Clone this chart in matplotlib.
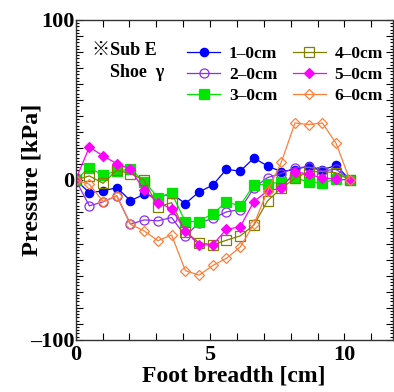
import numpy as np
import matplotlib
matplotlib.use("Agg")
import matplotlib.pyplot as plt
from matplotlib.ticker import MultipleLocator, FuncFormatter

# ======================================================
# Data
# ======================================================

foot_breadth = [0.0, 0.51, 1.02, 1.53, 2.04, 2.55, 3.06, 3.57, 4.08, 4.59, 5.10,
                5.61, 6.12, 6.63, 7.14, 7.65, 8.16, 8.67, 9.18, 9.69, 10.2]

p_1_0 = [0, -7.9, -6.9, -4.8, -13, -9, -11, -8.5, -14.8, -7.5, -3.3,
         6.7, 5.4, 13.7, 8.7, 5.2, 6.5, 8.7, 6.2, 9.2, 0]
p_2_0 = [0, -16.2, -13.7, -10, -27.7, -25, -25.6, -23.5, -35, -27, -24,
         -20, -18.5, -5, 1.5, 4, 7.7, 8, 5.6, 6.7, 0]
p_3_0 = [0, 7.7, 2.9, 5.6, 6.7, -1, -11, -8.3, -26, -26, -21,
         -14, -16, -3.1, -2.7, -1.2, 1.2, -1.2, -1.8, 0.5, 0]
p_4_0 = [0, 2.5, -2.1, 6, 4, -0.2, -16.9, -14.2, -32.3, -39.2, -40.6,
         -37.7, -35, -28.3, -13.1, -5.2, 1, 5.2, 5.2, 4.5, 0]
p_5_0 = [0, 20.6, 15, 10.2, 6.7, -6.5, -14.2, -17.9, -31.9, -40.6, -40.6,
         -30.8, -29.4, -13.5, -6.9, -5.2, 5.2, 3.5, 1.2, 0.4, 0]
p_6_0 = [0, -2.7, -13.5, -10, -27.7, -31.9, -38, -34.4, -56.7, -59.6, -53.5,
         -49, -42, -27.7, -6.9, 11, 35.6, 34.6, 35.6, 22.9, 0]

labels = ["1\u20130cm", "2\u20130cm", "3\u20130cm", "4\u20130cm", "5\u20130cm", "6\u20130cm"]

# ======================================================
# Styling
# ======================================================

plt.rcParams['font.family'] = ['Liberation Serif', 'Noto Sans CJK JP', 'DejaVu Serif']
plt.rcParams['font.weight'] = 'bold'
plt.rcParams['axes.unicode_minus'] = False

series = [
    (p_1_0, dict(color="#0000ff", marker="o", mfc="#0000ff", mec="#0000ff", ms=6)),
    (p_2_0, dict(color="#8c2cf0", marker="o", mfc="none", mec="#8c2cf0", ms=6.5)),
    (p_3_0, dict(color="#00e600", marker="s", mfc="#00e600", mec="#00e600", ms=6.5)),
    (p_4_0, dict(color="#808000", marker="s", mfc="none", mec="#808000", ms=6.5)),
    (p_5_0, dict(color="#ff00ff", marker="D", mfc="#ff00ff", mec="#ff00ff", ms=5.5)),
    (p_6_0, dict(color="#ff7f3a", marker="D", mfc="none", mec="#ff7f3a", ms=5.5)),
]

# ======================================================
# Plot
# ======================================================

fig = plt.figure(figsize=(3.94, 3.92), dpi=100)
ax = fig.add_axes([0.192, 0.133, 0.805, 0.816])

handles = []
for vals, style in series:
    h, = ax.plot(foot_breadth, vals, lw=0.9, mew=0.9, **style)
    handles.append(h)

ax.set_xlim(0, 11.8)
ax.set_ylim(-100, 100)

ax.xaxis.set_major_locator(MultipleLocator(5))
ax.xaxis.set_minor_locator(MultipleLocator(1))
ax.yaxis.set_major_locator(MultipleLocator(10))
ax.yaxis.set_minor_locator(MultipleLocator(2))


def ylab(v, pos):
    if abs(v) in (0, 100):
        return "\u2013100" if v < 0 else str(int(v))
    return ""


ax.yaxis.set_major_formatter(FuncFormatter(ylab))
ax.tick_params(which="both", direction="in", top=True, right=True,
               labelsize=16, width=0.8)
ax.tick_params(which="major", length=5, pad=1)
ax.tick_params(which="minor", length=2.5)
ax.tick_params(axis="x", which="minor", length=5)
ax.tick_params(axis="x", which="major", pad=4)
for lab in ax.get_xticklabels() + ax.get_yticklabels():
    lab.set_fontweight("bold")
for lab in ax.get_yticklabels():
    lab.set_verticalalignment("center_baseline")
for sp in ax.spines.values():
    sp.set_linewidth(1.0)
    sp.set_color("#333333")

ax.set_xlabel("Foot breadth [cm]", fontsize=17, fontweight="bold", labelpad=0)
ax.set_ylabel("Pressure [kPa]", fontsize=17.5, fontweight="bold", labelpad=-9)

ax.text(0.05, 0.905, "\u203bSub E", transform=ax.transAxes, fontsize=13,
        fontweight="bold", ha="left", va="center")
ax.text(0.108, 0.835, "Shoe  \u03b3", transform=ax.transAxes, fontsize=13,
        fontweight="bold", ha="left", va="center")

ax.legend(handles, labels, ncol=2, loc="upper left",
          bbox_to_anchor=(0.33, 0.94), frameon=False,
          prop={"size": 12.5, "weight": "bold"},
          handlelength=1.9, handletextpad=0.5, columnspacing=0.9,
          labelspacing=0.28, borderaxespad=0)

plt.savefig("out.png", dpi=100)
